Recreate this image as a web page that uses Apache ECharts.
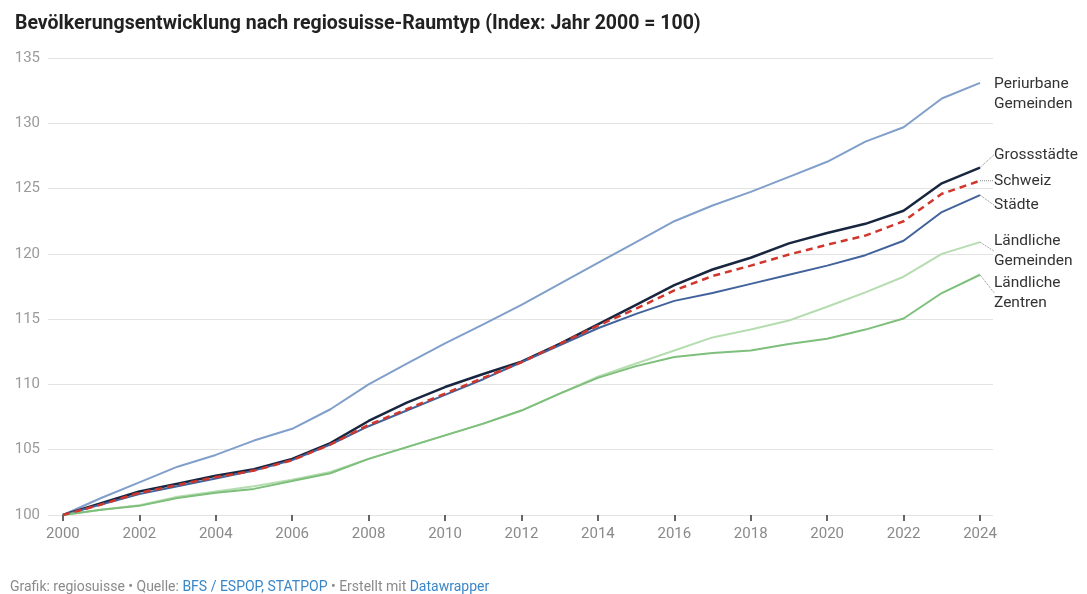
<!DOCTYPE html>
<html>
<head>
<meta charset="utf-8">
<script src="https://cdn.jsdelivr.net/npm/echarts@6/dist/echarts.min.js"></script>
<style>
  html, body { margin: 0; padding: 0; background: #fff; }
  #chart { width: 1087px; height: 594px; }
</style>
</head>
<body>
<div id="chart"></div>
<script>
// Jahre
var years = [2000, 2001, 2002, 2003, 2004, 2005, 2006, 2007, 2008, 2009, 2010, 2011, 2012,
             2013, 2014, 2015, 2016, 2017, 2018, 2019, 2020, 2021, 2022, 2023, 2024];

// Index-Werte je Raumtyp (Jahr 2000 = 100)
var periurbane = [100, 101.3, 102.5, 103.7, 104.6, 105.7, 106.6, 108.1, 110.0, 111.6, 113.15, 114.6, 116.1,
                  117.7, 119.3, 120.9, 122.5, 123.7, 124.75, 125.9, 127.05, 128.6, 129.7, 131.9, 133.1];
var grossstaedte = [100, 100.9, 101.8, 102.4, 103.0, 103.5, 104.3, 105.5, 107.2, 108.6, 109.8, 110.8, 111.75,
                    113.1, 114.6, 116.1, 117.6, 118.8, 119.7, 120.8, 121.6, 122.3, 123.3, 125.4, 126.6];
var schweiz = [100, 100.8, 101.7, 102.3, 102.9, 103.4, 104.2, 105.4, 106.9, 108.1, 109.3, 110.5, 111.7,
               113.1, 114.5, 115.8, 117.2, 118.3, 119.1, 119.95, 120.7, 121.4, 122.5, 124.6, 125.6];
var staedte = [100, 100.8, 101.6, 102.2, 102.8, 103.4, 104.2, 105.4, 106.8, 108.0, 109.2, 110.4, 111.7,
               113.0, 114.3, 115.4, 116.4, 117.0, 117.7, 118.4, 119.1, 119.9, 121.0, 123.2, 124.5];
var laendlicheGemeinden = [100, 100.4, 100.75, 101.4, 101.8, 102.2, 102.7, 103.3, 104.3, 105.2, 106.1, 107.0, 108.0,
                           109.3, 110.6, 111.6, 112.6, 113.6, 114.2, 114.9, 115.95, 117.05, 118.25, 120.0, 120.9];
var laendlicheZentren = [100, 100.4, 100.7, 101.3, 101.7, 102.0, 102.6, 103.2, 104.3, 105.2, 106.1, 107.0, 108.0,
                         109.3, 110.5, 111.4, 112.1, 112.4, 112.6, 113.1, 113.5, 114.2, 115.05, 117.0, 118.4];

var names = ['Periurbane\nGemeinden', 'Grossstädte', 'Schweiz', 'Städte', 'Ländliche\nGemeinden', 'Ländliche\nZentren'];
var tickYears = [2000, 2002, 2004, 2006, 2008, 2010, 2012, 2014, 2016, 2018, 2020, 2022, 2024];

var chart = echarts.init(document.getElementById('chart'));

var FONT = 'Roboto, "Noto Sans", sans-serif';
// Stil je Linie und vertikale Verschiebung der Beschriftung
var colors = ['#809fca', '#18263f', '#d1362c', '#41629a', '#b5ddb0', '#7dbf7b'];
var widths = [2, 2.5, 2.5, 2, 2, 2];
var labelDy = [11, -13, 0, 10, 9, 18];

function makeSeries(i, values) {
  var last = values.length - 1;
  return {
    name: names[i],
    type: 'line',
    data: values.map(function (v, k) {
      var item = { value: [years[k], v] };
      if (k === last) item.label = { show: true };
      return item;
    }),
    symbol: 'circle',
    symbolSize: 0,
    showSymbol: true,
    z: i === 2 ? 5 : 3,
    lineStyle: { color: colors[i], width: widths[i], type: i === 2 ? [7, 5] : 'solid' },
    itemStyle: { color: colors[i] },
    label: {
      show: false,
      position: 'right',
      distance: 14,
      fontFamily: FONT,
      fontSize: 15.5,
      lineHeight: 20,
      color: '#333',
      formatter: names[i]
    },
    labelLine: { show: i !== 0, lineStyle: { color: '#888', width: 1, type: 'dotted' } },
    labelLayout: function (p) {
      return { dy: labelDy[i] };
    },
    emphasis: { disabled: true },
    animation: false
  };
}

var option = {
  backgroundColor: '#fff',
  animation: false,
  title: [{
    text: 'Bevölkerungsentwicklung nach regiosuisse-Raumtyp (Index: Jahr 2000 = 100)',
    left: 10, top: 9,
    textStyle: { fontFamily: FONT, fontSize: 19.5, fontWeight: 'bold', color: '#222' }
  }, {
    text: '{g|Grafik: regiosuisse • Quelle: }{b|BFS / ESPOP, STATPOP}{g| • Erstellt mit }{b|Datawrapper}',
    left: 10, top: 580, padding: 0,
    textStyle: {
      fontWeight: 'normal',
      lineHeight: 14,
      rich: {
        g: { fontFamily: FONT, fontSize: 14, lineHeight: 14, fontWeight: 'normal', color: '#8a8a8a' },
        b: { fontFamily: FONT, fontSize: 14, lineHeight: 14, fontWeight: 'normal', color: '#3a86c8' }
      }
    }
  }],
  grid: { left: 48, right: 94, top: 58, bottom: 79, containLabel: false },
  xAxis: {
    type: 'value',
    min: 1999.61,
    max: 2024.34,
    splitLine: { show: false },
    axisLine: { show: false },
    axisTick: { show: true, customValues: tickYears, length: 6, lineStyle: { color: '#333', width: 1.5 } },
    axisLabel: {
      customValues: tickYears,
      color: '#8a8a8a', fontFamily: FONT, fontSize: 15, margin: 12,
      formatter: function (v) { return String(v); }
    }
  },
  yAxis: {
    type: 'value',
    min: 100, max: 135, interval: 5,
    axisLine: { show: false },
    axisTick: { show: false },
    splitLine: { lineStyle: { color: '#e3e3e3', width: 1 } },
    axisLabel: { color: '#9a9a9a', fontFamily: FONT, fontSize: 15, margin: 8 }
  },
  series: [
    makeSeries(0, periurbane),
    makeSeries(1, grossstaedte),
    makeSeries(2, schweiz),
    makeSeries(3, staedte),
    makeSeries(4, laendlicheGemeinden),
    makeSeries(5, laendlicheZentren)
  ]
};

chart.setOption(option);
</script>
</body>
</html>
